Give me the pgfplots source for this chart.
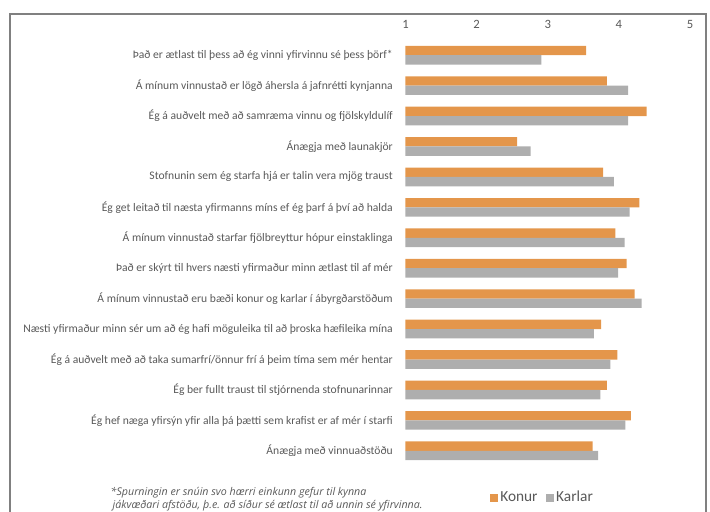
\documentclass[border=0pt]{standalone}
\usepackage{fontspec}
\setmainfont{Carlito}
\newfontfamily\notefont{Open Sans}
\usepackage{pgfplots}
\usepackage{pgfplotstable}
\pgfplotsset{compat=1.18}

\definecolor{konur}{HTML}{E4964B}
\definecolor{karlar}{HTML}{AEAEAE}
\definecolor{txt}{HTML}{595959}
\definecolor{frame}{HTML}{808080}

% mean scores, in the order the statements are listed from the top
\pgfplotstableread{
konur karlar
3.54 2.91
3.83 4.13
4.39 4.13
2.57 2.76
3.78 3.93
4.29 4.15
3.95 4.08
4.11 3.99
4.22 4.32
3.75 3.65
3.98 3.88
3.83 3.74
4.17 4.09
3.63 3.71
}\data

\begin{document}
\begin{tikzpicture}[x=0.75pt,y=0.75pt]
\useasboundingbox (0,0) rectangle (710,511);
\draw[frame, line width=1pt] (10,-10) rectangle (706,497);
\begin{axis}[
    at={(304.1pt,353.25pt)}, anchor=north west,
    scale only axis, width=213.4pt, height=319.5pt,
    xbar, bar width=7pt,
    xmin=1, xmax=5, ymin=-0.5, ymax=13.5,
    xtick={1,2,3,4,5}, xticklabel pos=right,
    /pgf/number format/assume math mode=true,
    ytick={0,...,13},
    yticklabels={
      {Ánægja með vinnuaðstöðu},
      {Ég hef næga yfirsýn yfir alla þá þætti sem krafist er af mér í starfi},
      {Ég ber fullt traust til stjórnenda stofnunarinnar},
      {Ég á auðvelt með að taka sumarfrí/önnur frí á þeim tíma sem mér hentar},
      {Næsti yfirmaður minn sér um að ég hafi möguleika til að þroska hæfileika mína},
      {Á mínum vinnustað eru bæði konur og karlar í ábyrgðarstöðum},
      {Það er skýrt til hvers næsti yfirmaður minn ætlast til af mér},
      {Á mínum vinnustað starfar fjölbreyttur hópur einstaklinga},
      {Ég get leitað til næsta yfirmanns míns ef ég þarf á því að halda},
      {Stofnunin sem ég starfa hjá er talin vera mjög traust},
      {Ánægja með launakjör},
      {Ég á auðvelt með að samræma vinnu og fjölskyldulíf},
      {Á mínum vinnustað er lögð áhersla á jafnrétti kynjanna},
      {Það er ætlast til þess að ég vinni yfirvinnu sé þess þörf*}},
    axis line style={draw=none}, major tick length=0pt,
    tick label style={font=\fontsize{8.7}{10}\selectfont, text=txt},
    yticklabel style={xshift=-6pt},
    xticklabel style={yshift=5pt, font=\fontsize{9.5}{11}\selectfont},
    legend columns=2,
    legend style={draw=none, at={(0.295,-0.073)}, anchor=west,
      font=\fontsize{11.5}{13}\selectfont, text=txt,
      /tikz/every even column/.append style={column sep=4pt},
      inner sep=0pt},
    legend image code/.code={\fill[#1] (0pt,-3.4pt) rectangle (6pt,2.6pt);},
]
\addplot[draw=none, fill=konur, bar shift=3.5pt]
  table[x=konur, y expr=13-\coordindex] {\data};
\addplot[draw=none, fill=karlar, bar shift=-3.5pt]
  table[x=karlar, y expr=13-\coordindex] {\data};
\legend{Konur, Karlar}
\end{axis}
\node[anchor=north west, align=left, text=txt,
      font=\notefont\itshape\fontsize{8}{9.8}\selectfont]
  at (106,511-483) {*Spurningin er snúin svo hærri einkunn gefur til kynna\\
  \hspace*{1.5pt}jákvæðari afstöðu, þ.e. að síður sé ætlast til að unnin sé yfirvinna.};
\end{tikzpicture}
\end{document}
